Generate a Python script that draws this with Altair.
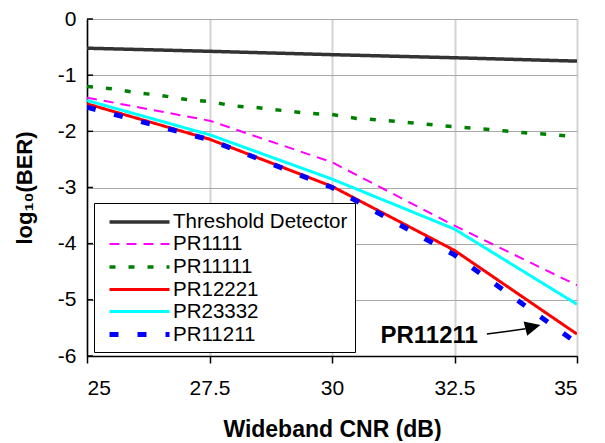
import altair as alt
import pandas as pd

# ---- data ----
x_main = [25, 27.5, 30, 32.5, 35]
threshold = [-0.52, -0.575, -0.635, -0.69, -0.75]
pr1111 = [-1.40, -1.81, -2.55, -3.68, -4.74]
pr12221 = [-1.51, -2.14, -2.98, -4.12, -5.61]
pr23332 = [-1.45, -2.06, -2.85, -3.74, -5.08]
pr11211 = [-1.57, -2.15, -3.00, -4.20, -5.77]

x_fine = [25, 25.5, 26, 26.5, 27, 27.5, 28, 28.5, 29, 29.5, 30,
          30.5, 31, 31.5, 32, 32.5, 33, 33.5, 34, 34.5, 35]
pr11111 = [-1.20, -1.24, -1.31, -1.36, -1.43, -1.47, -1.55, -1.58, -1.63, -1.68, -1.70,
           -1.77, -1.80, -1.84, -1.88, -1.92, -1.95, -1.99, -2.03, -2.06, -2.10]

series_names = ["Threshold Detector", "PR1111", "PR11111", "PR12221", "PR23332", "PR11211"]
series_colors = ["#333333", "#ff00ff", "#008000", "#ff0000", "#00ffff", "#0000ff"]
series_dashes = [[1, 0], [10, 7], [6, 13], [1, 0], [1, 0], [9, 19]]
series_widths = [3.5, 2, 3.5, 3, 3, 5]

x_ticks = [25, 27.5, 30, 32.5, 35]
y_ticks = [0, -1, -2, -3, -4, -5, -6]

annot_text = ["PR11211"]
annot_text_x = [30.99]
annot_text_y = [-5.77]
arrow_x = [33.16, 33.95]
arrow_y = [-5.61, -5.515]
arrow_head_x = [34.10]
arrow_head_y = [-5.48]
arrow_head_angle = [346]

FONT = "Liberation Sans"

rows = []
for name, xs, ys in [
    ("Threshold Detector", x_main, threshold),
    ("PR1111", x_main, pr1111),
    ("PR11111", x_fine, pr11111),
    ("PR12221", x_main, pr12221),
    ("PR23332", x_main, pr23332),
    ("PR11211", x_main, pr11211),
]:
    for xv, yv in zip(xs, ys):
        rows.append({"series": name, "cnr": xv, "ber": yv})
df = pd.DataFrame(rows)

xscale = alt.Scale(domain=[25, 35], nice=False, zero=False)
yscale = alt.Scale(domain=[-6, 0], nice=False, zero=False)

legend = alt.Legend(
    title=None, orient="none", legendX=7, legendY=184,
    fillColor="white", strokeColor="black", padding=7,
    symbolType="M-3,0L3,0", symbolSize=400, symbolOffset=26,
    labelOffset=21, labelFontSize=20.5, labelFont=FONT, labelColor="black",
    rowPadding=0, labelLimit=400,
)

lines = alt.Chart(df).mark_line(clip=True).encode(
    x=alt.X("cnr:Q", scale=xscale,
            axis=alt.Axis(values=x_ticks, title="Wideband CNR (dB)",
                          labelExpr="datum.value + ''",
                          grid=True, gridColor="#d4d4d4", gridWidth=2,
                          domainColor="black", domainWidth=1.5,
                          tickColor="black", tickSize=7, tickWidth=1.5,
                          labelPadding=14, titlePadding=20,
                          labelFontSize=21, titleFontSize=23)),
    y=alt.Y("ber:Q", scale=yscale,
            axis=alt.Axis(values=y_ticks, title="log₁₀(BER)",
                          labelExpr="datum.value + ''",
                          grid=True, gridColor="#a8a8a8", gridWidth=1.2,
                          domainColor="black", domainWidth=1.5,
                          tickSize=0, labelPadding=11, titlePadding=21,
                          labelFontSize=21, titleFontSize=22)),
    color=alt.Color("series:N", scale=alt.Scale(domain=series_names, range=series_colors),
                    legend=legend),
    strokeDash=alt.StrokeDash("series:N", scale=alt.Scale(domain=series_names, range=series_dashes),
                              legend=legend),
    strokeWidth=alt.StrokeWidth("series:N",
                                scale=alt.Scale(type="ordinal", domain=series_names, range=series_widths),
                                legend=legend),
    order=alt.Order("cnr:Q"),
)

ytick_df = pd.DataFrame({"v": y_ticks})
yticks_inside = alt.Chart(ytick_df).mark_rule(color="black", strokeWidth=1.5).encode(
    y=alt.Y("v:Q", scale=yscale),
    x=alt.value(0), x2=alt.value(6),
)

text_df = pd.DataFrame({"t": annot_text, "x": annot_text_x, "y": annot_text_y})
annot = alt.Chart(text_df).mark_text(
    align="left", baseline="alphabetic", fontSize=24, fontWeight="bold", font=FONT, color="black"
).encode(x=alt.X("x:Q", scale=xscale), y=alt.Y("y:Q", scale=yscale), text="t:N")

arrow_df = pd.DataFrame({"x": [arrow_x[0]], "y": [arrow_y[0]], "x2": [arrow_x[1]], "y2": [arrow_y[1]]})
arrow_line = alt.Chart(arrow_df).mark_rule(color="black", strokeWidth=1.5).encode(
    x=alt.X("x:Q", scale=xscale), y=alt.Y("y:Q", scale=yscale), x2="x2:Q", y2="y2:Q")

head_df = pd.DataFrame({"x": arrow_head_x, "y": arrow_head_y, "a": arrow_head_angle})
arrow_head = alt.Chart(head_df).mark_point(
    shape="M-1,-0.95L1,0L-1,0.95Z", filled=True, color="black", size=240, opacity=1
).encode(x=alt.X("x:Q", scale=xscale), y=alt.Y("y:Q", scale=yscale),
         angle=alt.Angle("a:Q", scale=None))

chart = alt.layer(lines, yticks_inside, arrow_line, arrow_head, annot).properties(
    width=490, height=337,
    autosize=alt.AutoSizeParams(type="none"),
    padding={"left": 79, "top": 11, "right": 20, "bottom": 85},
).configure_view(
    stroke="#a8a8a8", strokeWidth=1.5
).configure_axis(
    labelFont=FONT, titleFont=FONT, labelColor="black", titleColor="black",
    titleFontWeight="bold",
).configure(background="white")

chart.save("out.html", embed_options={"renderer": "svg", "actions": False})
